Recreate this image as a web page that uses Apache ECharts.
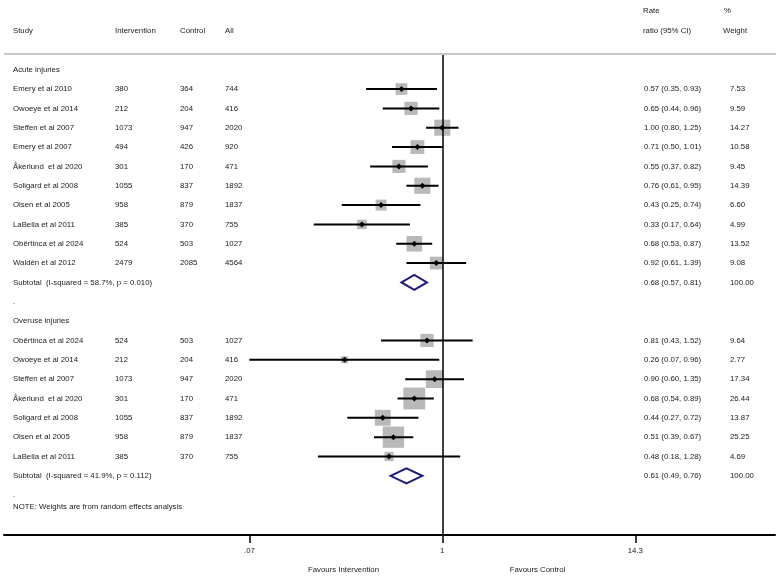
<!DOCTYPE html>
<html>
<head>
<meta charset="utf-8">
<script src="https://cdn.jsdelivr.net/npm/echarts@6/dist/echarts.min.js"></script>
<style>
  html, body { margin: 0; padding: 0; background: #fff; }
  #main { width: 779px; height: 577px; }
</style>
</head>
<body>
<div id="main"></div>
<script>
// acute injuries
var acuteStudies = ['Emery et al 2010', 'Owoeye et al 2014', 'Steffen et al 2007', 'Emery et al 2007', 'Åkerlund  et al 2020',
  'Soligard et al 2008', 'Olsen et al 2005', 'LaBella et al 2011', 'Obërtinca et al 2024', 'Waldén et al 2012'];
var acuteInt = [380, 212, 1073, 494, 301, 1055, 958, 385, 524, 2479];
var acuteCtl = [364, 204, 947, 426, 170, 837, 879, 370, 503, 2085];
var acuteAll = [744, 416, 2020, 920, 471, 1892, 1837, 755, 1027, 4564];
var acuteRR = [0.57, 0.65, 1.00, 0.71, 0.55, 0.76, 0.43, 0.33, 0.68, 0.92];
var acuteLo = [0.35, 0.44, 0.80, 0.50, 0.37, 0.61, 0.25, 0.17, 0.53, 0.61];
var acuteHi = [0.93, 0.96, 1.25, 1.01, 0.82, 0.95, 0.74, 0.64, 0.87, 1.39];
var acuteW = ['7.53', '9.59', '14.27', '10.58', '9.45', '14.39', '6.60', '4.99', '13.52', '9.08'];
var acuteSub = [0.68, 0.57, 0.81];
var acuteSubLabel = 'Subtotal  (I-squared = 58.7%, p = 0.010)';

// overuse injuries
var overuseStudies = ['Obërtinca et al 2024', 'Owoeye et al 2014', 'Steffen et al 2007', 'Åkerlund  et al 2020',
  'Soligard et al 2008', 'Olsen et al 2005', 'LaBella et al 2011'];
var overuseInt = [524, 212, 1073, 301, 1055, 958, 385];
var overuseCtl = [503, 204, 947, 170, 837, 879, 370];
var overuseAll = [1027, 416, 2020, 471, 1892, 1837, 755];
var overuseRR = [0.81, 0.26, 0.90, 0.68, 0.44, 0.51, 0.48];
var overuseLo = [0.43, 0.07, 0.60, 0.54, 0.27, 0.39, 0.18];
var overuseHi = [1.52, 0.96, 1.35, 0.89, 0.72, 0.67, 1.28];
var overuseW = ['9.64', '2.77', '17.34', '26.44', '13.87', '25.25', '4.69'];
var overuseSub = [0.61, 0.49, 0.76];
var overuseSubLabel = 'Subtotal  (I-squared = 41.9%, p = 0.112)';

var tickValues = [0.07, 1, 14.3];
var tickLabels = ['.07', '1', '14.3'];

var FONT = 'Liberation Sans, Arial, sans-serif';
var FS = 7.8;
var TXT = '#1a1a1a';

function fmt(v) { return v.toFixed(2); }
function ciText(r, l, h) { return fmt(r) + ' (' + fmt(l) + ', ' + fmt(h) + ')'; }

// build rows
var rows = [];      // text rows
var studyData = []; // [logRR, logLo, logHi, row, weight]
var subData = [];   // [logRR, logLo, logHi, row]

function addGroup(title, names, ni, nc, na, rr, lo, hi, w, sub, subLabel) {
  rows.push({ cells: [title] });
  for (var i = 0; i < names.length; i++) {
    var k = rows.length;
    rows.push({ cells: [names[i], String(ni[i]), String(nc[i]), String(na[i]), ciText(rr[i], lo[i], hi[i]), w[i]] });
    studyData.push([Math.log10(rr[i]), Math.log10(lo[i]), Math.log10(hi[i]), k, parseFloat(w[i])]);
  }
  var ks = rows.length;
  rows.push({ cells: [subLabel, '', '', '', ciText(sub[0], sub[1], sub[2]), '100.00'] });
  subData.push([Math.log10(sub[0]), Math.log10(sub[1]), Math.log10(sub[2]), ks]);
  rows.push({ cells: ['.'] });
}
addGroup('Acute injuries', acuteStudies, acuteInt, acuteCtl, acuteAll, acuteRR, acuteLo, acuteHi, acuteW, acuteSub, acuteSubLabel);
addGroup('Overuse injuries', overuseStudies, overuseInt, overuseCtl, overuseAll, overuseRR, overuseLo, overuseHi, overuseW, overuseSub, overuseSubLabel);

var colX = [13, 115, 180, 225, 644, 730];

var chart = echarts.init(document.getElementById('main'));

chart.setOption({
  animation: false,
  textStyle: { fontFamily: FONT },
  grid: { left: 4, right: 4, top: 55, bottom: 42, outerBoundsMode: 'none' },
  xAxis: {
    type: 'value',
    min: -2.624,
    max: 1.992,
    splitLine: { show: false },
    axisLine: { show: true, onZero: false, lineStyle: { color: '#000', width: 2 } },
    axisTick: {
      show: true,
      customValues: tickValues.map(function (v) { return Math.log10(v); }),
      length: 8,
      lineStyle: { color: '#000', width: 1.5 }
    },
    axisLabel: {
      customValues: tickValues.map(function (v) { return Math.log10(v); }),
      margin: 12,
      fontSize: FS,
      color: TXT,
      fontFamily: FONT,
      formatter: function (v) {
        for (var i = 0; i < tickValues.length; i++) {
          if (Math.abs(Math.log10(tickValues[i]) - v) < 1e-6) return tickLabels[i];
        }
        return '';
      }
    }
  },
  yAxis: {
    type: 'value',
    inverse: true,
    min: -0.76,
    max: 24.06,
    show: false
  },
  graphic: [
    { type: 'text', left: 13, top: 27, style: { text: 'Study', fontSize: FS, fill: TXT, fontFamily: FONT } },
    { type: 'text', left: 115, top: 27, style: { text: 'Intervention', fontSize: FS, fill: TXT, fontFamily: FONT } },
    { type: 'text', left: 180, top: 27, style: { text: 'Control', fontSize: FS, fill: TXT, fontFamily: FONT } },
    { type: 'text', left: 225, top: 27, style: { text: 'All', fontSize: FS, fill: TXT, fontFamily: FONT } },
    { type: 'text', left: 643, top: 7, style: { text: 'Rate', fontSize: FS, fill: TXT, fontFamily: FONT } },
    { type: 'text', left: 643, top: 27, style: { text: 'ratio (95% CI)', fontSize: FS, fill: TXT, fontFamily: FONT } },
    { type: 'text', left: 724, top: 7, style: { text: '%', fontSize: FS, fill: TXT, fontFamily: FONT } },
    { type: 'text', left: 723, top: 27, style: { text: 'Weight', fontSize: FS, fill: TXT, fontFamily: FONT } },
    { type: 'line', shape: { x1: 4, y1: 54, x2: 776, y2: 54 }, style: { stroke: '#c8c8c8', lineWidth: 2 } },
    { type: 'text', left: 13, top: 503, style: { text: 'NOTE: Weights are from random effects analysis', fontSize: FS, fill: TXT, fontFamily: FONT } },
    { type: 'text', x: 343.5, y: 566, style: { text: 'Favours Intervention', align: 'center', fontSize: FS, fill: TXT, fontFamily: FONT } },
    { type: 'text', x: 537.5, y: 566, style: { text: 'Favours Control', align: 'center', fontSize: FS, fill: TXT, fontFamily: FONT } }
  ],
  series: [
    {
      // table text
      type: 'custom',
      silent: true,
      clip: false,
      data: rows.map(function (r, i) { return [0, i]; }),
      renderItem: function (params, api) {
        var r = rows[params.dataIndex];
        var y = api.coord([0, api.value(1)])[1];
        var children = [];
        for (var c = 0; c < r.cells.length; c++) {
          if (!r.cells[c]) continue;
          children.push({
            type: 'text',
            x: colX[c],
            y: y,
            style: { text: r.cells[c], fontSize: FS, fill: TXT, fontFamily: FONT, verticalAlign: 'middle' }
          });
        }
        return { type: 'group', children: children };
      }
    },
    {
      // study boxes, CIs and points
      type: 'custom',
      silent: true,
      clip: false,
      data: studyData,
      renderItem: function (params, api) {
        var p = api.coord([api.value(0), api.value(3)]);
        var l = api.coord([api.value(1), api.value(3)]);
        var h = api.coord([api.value(2), api.value(3)]);
        var s = 4.25 * Math.sqrt(api.value(4));
        var d = 3;
        return {
          type: 'group',
          children: [
            { type: 'rect', shape: { x: p[0] - s / 2, y: p[1] - s / 2, width: s, height: s }, style: { fill: '#b9b9b9' } },
            { type: 'line', shape: { x1: l[0], y1: l[1], x2: h[0], y2: h[1] }, style: { stroke: '#000', lineWidth: 2 } },
            { type: 'polygon', shape: { points: [[p[0] - d, p[1]], [p[0], p[1] - d], [p[0] + d, p[1]], [p[0], p[1] + d]] }, style: { fill: '#000' } }
          ]
        };
      },
      markLine: {
        silent: true,
        symbol: 'none',
        label: { show: false },
        lineStyle: { color: '#000', width: 1.5, type: 'solid' },
        data: [{ xAxis: 0 }]
      }
    },
    {
      // subtotal diamonds
      type: 'custom',
      silent: true,
      clip: false,
      data: subData,
      renderItem: function (params, api) {
        var p = api.coord([api.value(0), api.value(3)]);
        var l = api.coord([api.value(1), api.value(3)]);
        var h = api.coord([api.value(2), api.value(3)]);
        var hh = 7.5;
        return {
          type: 'polygon',
          shape: { points: [[l[0], p[1]], [p[0], p[1] - hh], [h[0], p[1]], [p[0], p[1] + hh]] },
          style: { fill: 'none', stroke: '#1c1c7a', lineWidth: 2 }
        };
      }
    }
  ]
});
</script>
</body>
</html>
